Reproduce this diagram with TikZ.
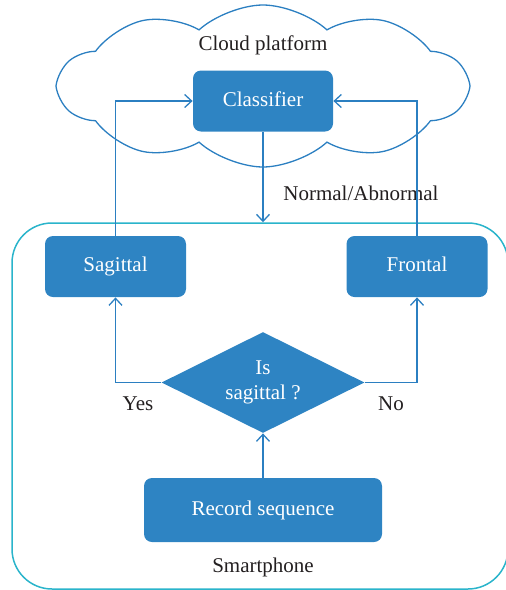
\documentclass[tikz,border=0pt]{standalone}
\usepackage{fontspec}
\setmainfont{Liberation Serif}
\usetikzlibrary{shapes.geometric,shapes.symbols,arrows.meta,positioning}
\definecolor{BoxBlue}{HTML}{2E84C3}
\definecolor{LineBlue}{HTML}{2B7FC1}
\definecolor{PhoneCyan}{HTML}{2AB4CB}
\definecolor{TextGrey}{HTML}{231F20}

\begin{document}
\begin{tikzpicture}[x=0.5pt,y=-0.5pt,
    box/.style={rectangle,rounded corners=4pt,fill=BoxBlue,text=white,inner sep=0pt,
                text height=7.5pt,text depth=2.5pt},
    lbl/.style={text=TextGrey,inner sep=0pt},
    link/.style={draw=LineBlue,line width=0.65pt,-{Straight Barb[length=3.5pt,width=6.5pt]}},
    font=\fontsize{10.5}{12.5}\selectfont
  ]
  \useasboundingbox (0,0) rectangle (505,590);
  % cloud side
  \node[cloud,draw=LineBlue,line width=0.65pt,cloud puffs=10,cloud puff arc=85,aspect=2.5,
        minimum width=204pt,minimum height=81pt,inner sep=0pt] (cld) at (263,86) {};
  \node[lbl] (cpl) at (263,45) {Cloud platform};
  \node[box,minimum width=70pt,minimum height=30.5pt] (clf) at (263,101) {Classifier};

  % smartphone side
  \node[rectangle,draw=PhoneCyan,line width=0.75pt,rounded corners=20pt,
        minimum width=248pt,minimum height=183pt] (phn) at (260,406) {};
  \node[lbl] (sph) at (263,567) {Smartphone};
  \node[box,minimum width=70.5pt,minimum height=30.5pt] (sag) at (115.5,266.5) {Sagittal};
  \node[box,minimum width=70.5pt,minimum height=30.5pt] (fro) at (417,266.5) {Frontal};
  \node[diamond,fill=BoxBlue,text=white,inner sep=0pt,aspect=2,align=center,
        minimum width=101.5pt,minimum height=50.5pt] (dec) at (263,382.5) {Is\\sagittal ?};
  \node[box,minimum width=119pt,minimum height=32pt] (rec) at (263,510) {Record sequence};

  \node[lbl,anchor=west] (nab) at (283,193) {Normal/Abnormal};
  \node[lbl] (yes) at (138,404) {Yes};
  \node[lbl] (no) at (391,404) {No};

  \draw[link] (clf.south) -- (clf.south |- phn.north);
  \draw[link] (sag.north) |- (clf.west);
  \draw[link] (fro.north) |- (clf.east);
  \draw[link] (dec.west) -| (sag.south);
  \draw[link] (dec.east) -| (fro.south);
  \draw[link] (rec.north) -- (dec.south);
\end{tikzpicture}
\end{document}
